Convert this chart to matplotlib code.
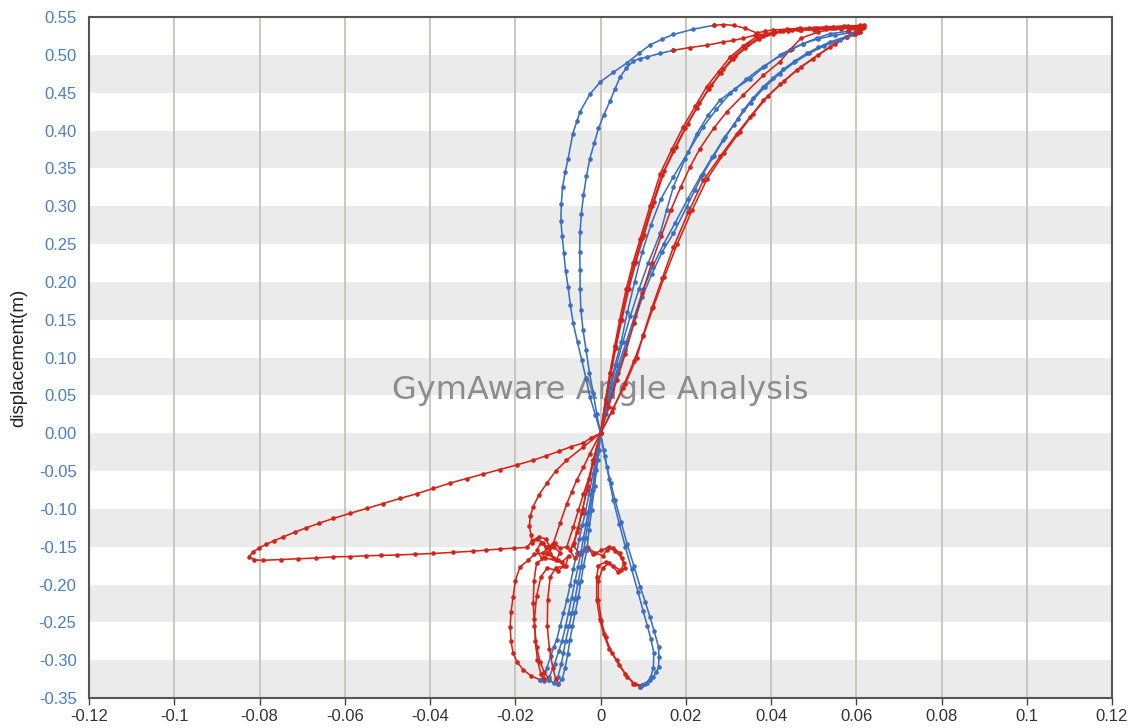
import matplotlib
matplotlib.use("Agg")
import matplotlib.pyplot as plt

# ---- data (x = horizontal offset, y = displacement, metres) ----

# blue: bottom-left loop lines up to the crossing point
blue_left_1 = [(-0.0134, -0.324), (-0.0126, -0.31), (-0.0117, -0.295), (-0.0110, -0.283), (-0.0103, -0.2736),
               (-0.0095, -0.255), (-0.0087, -0.238), (-0.0079, -0.2207), (-0.0071, -0.2), (-0.0064, -0.18),
               (-0.0056, -0.159), (-0.0050, -0.14), (-0.0043, -0.122), (-0.0036, -0.106), (-0.0027, -0.08),
               (-0.0018, -0.054), (-0.0009, -0.027), (0, 0)]
blue_left_2 = [(-0.0099, -0.331), (-0.0090, -0.325), (-0.0083, -0.31), (-0.0077, -0.292), (-0.0072, -0.2736),
               (-0.0066, -0.255), (-0.0059, -0.236), (-0.0052, -0.2163), (-0.0046, -0.196), (-0.0040, -0.175),
               (-0.0032, -0.1546), (-0.0027, -0.128), (-0.0021, -0.1018), (-0.0014, -0.07), (-0.0007, -0.035),
               (0, 0)]
blue_left_3 = [(-0.0142, -0.326), (-0.0132, -0.327), (-0.0120, -0.322), (-0.0108, -0.305), (-0.0098, -0.288),
               (-0.0090, -0.274), (-0.0082, -0.255), (-0.0075, -0.237), (-0.0068, -0.218), (-0.0060, -0.196),
               (-0.0053, -0.177), (-0.0046, -0.157), (-0.0040, -0.138), (-0.0034, -0.12), (-0.0029, -0.104),
               (-0.0020, -0.075), (-0.0012, -0.048), (-0.0005, -0.022), (0, 0)]
blue_left_4 = [(-0.0120, -0.326), (-0.0110, -0.33), (-0.0100, -0.322), (-0.0092, -0.305), (-0.0087, -0.29),
               (-0.0082, -0.275), (-0.0074, -0.255), (-0.0067, -0.237), (-0.0060, -0.219), (-0.0053, -0.198),
               (-0.0046, -0.177), (-0.0040, -0.156), (-0.0035, -0.138), (-0.0030, -0.12), (-0.0025, -0.103),
               (-0.0017, -0.075), (-0.0010, -0.048), (-0.0004, -0.022), (0, 0)]

# blue: fan from the crossing point to the top right
blue_fan_1 = [(0.0012, 0.025), (0.0025, 0.05), (0.0040, 0.08), (0.0058, 0.11), (0.0078, 0.145), (0.0098, 0.18),
              (0.0120, 0.21), (0.0145, 0.24), (0.0171, 0.264), (0.0202, 0.299), (0.0222, 0.322), (0.0241, 0.343),
              (0.0265, 0.366), (0.0288, 0.387), (0.0312, 0.407), (0.0335, 0.427), (0.0358, 0.443), (0.0382, 0.458),
              (0.0405, 0.47), (0.0429, 0.481), (0.0456, 0.492), (0.0484, 0.502), (0.0511, 0.510), (0.0538, 0.517),
              (0.0575, 0.524), (0.0609, 0.530)]
blue_fan_2 = [(0.0011, 0.03), (0.0023, 0.06), (0.0037, 0.09), (0.0052, 0.12), (0.0070, 0.155), (0.0090, 0.19),
              (0.0112, 0.225), (0.0140, 0.264), (0.0155, 0.295), (0.0171, 0.3255), (0.0198, 0.362), (0.0226, 0.396),
              (0.0252, 0.420), (0.0280, 0.44), (0.0315, 0.455), (0.0350, 0.468), (0.0385, 0.485), (0.0421, 0.4995),
              (0.0448, 0.508), (0.0475, 0.515), (0.0510, 0.521), (0.0550, 0.526), (0.0585, 0.529), (0.0605, 0.530)]
blue_fan_3 = [(0.0013, 0.03), (0.0027, 0.06), (0.0042, 0.09), (0.0060, 0.12), (0.0080, 0.155), (0.0100, 0.19),
              (0.0122, 0.22), (0.0148, 0.25), (0.0175, 0.278), (0.0205, 0.31), (0.0235, 0.34), (0.0262, 0.365),
              (0.0292, 0.392), (0.0322, 0.415), (0.0352, 0.437), (0.0385, 0.457), (0.0420, 0.475), (0.0455, 0.490),
              (0.0490, 0.502), (0.0525, 0.512), (0.0562, 0.520), (0.0598, 0.527)]
blue_fan_4 = [(0.0010, 0.03), (0.0021, 0.06), (0.0034, 0.09), (0.0048, 0.12), (0.0063, 0.16), (0.0080, 0.2),
              (0.0098, 0.24), (0.0118, 0.275), (0.0142, 0.31), (0.0171, 0.339), (0.0206, 0.372), (0.0241, 0.405),
              (0.0272, 0.428), (0.0304, 0.449), (0.0342, 0.468), (0.0380, 0.484), (0.0428, 0.501), (0.0476, 0.515),
              (0.0507, 0.522), (0.0538, 0.528), (0.0580, 0.531)]

# blue: bottom-right loop up to the crossing point
blue_right_1 = [(0.0093, -0.335), (0.0104, -0.331), (0.0116, -0.326), (0.0124, -0.322), (0.0131, -0.315),
                (0.0136, -0.309), (0.0137, -0.296), (0.0136, -0.2824), (0.0126, -0.262), (0.0116, -0.243),
                (0.0105, -0.223), (0.0093, -0.203), (0.0078, -0.175), (0.0062, -0.1458), (0.0048, -0.117),
                (0.0034, -0.0885), (0.0024, -0.066), (0.0015, -0.0445), (0.0007, -0.022), (0, 0)]
blue_right_2 = [(0.0097, -0.333), (0.0108, -0.330), (0.0118, -0.322), (0.0124, -0.31), (0.0125, -0.29),
                (0.0118, -0.272), (0.0110, -0.255), (0.0100, -0.235), (0.0088, -0.21), (0.0073, -0.18),
                (0.0058, -0.15), (0.0044, -0.12), (0.0030, -0.0885), (0.0020, -0.06), (0.0010, -0.03), (0, 0)]

# blue: top-left loops
blue_loop_outer = [(-0.0012, 0.024), (-0.0025, 0.048), (-0.0034, 0.072), (-0.0044, 0.0965), (-0.0054, 0.12),
                   (-0.0064, 0.145), (-0.0071, 0.17), (-0.0076, 0.193), (-0.0082, 0.215), (-0.0086, 0.2375),
                   (-0.0090, 0.26), (-0.0093, 0.281), (-0.0092, 0.303), (-0.0089, 0.3255), (-0.0083, 0.345),
                   (-0.0076, 0.363), (-0.0065, 0.396), (-0.0055, 0.413), (-0.0048, 0.425), (-0.0025, 0.448),
                   (-0.0001, 0.464), (0.0030, 0.477), (0.0061, 0.489), (0.0090, 0.502), (0.0116, 0.513),
                   (0.0145, 0.521), (0.0171, 0.527), (0.0218, 0.534), (0.0265, 0.539)]
blue_loop_inner = [(-0.0009, 0.026), (-0.0017, 0.0525), (-0.0026, 0.08), (-0.0034, 0.11), (-0.0041, 0.136),
                   (-0.0046, 0.1625), (-0.0048, 0.19), (-0.0048, 0.2154), (-0.0049, 0.24), (-0.0048, 0.266),
                   (-0.0045, 0.29), (-0.0040, 0.3145), (-0.0033, 0.34), (-0.0025, 0.363), (-0.0015, 0.383),
                   (-0.0005, 0.4027), (0.0008, 0.421), (0.0022, 0.4387), (0.0034, 0.455), (0.0046, 0.471),
                   (0.0060, 0.482), (0.0077, 0.492), (0.0092, 0.495), (0.0108, 0.497), (0.0140, 0.502),
                   (0.0171, 0.506)]

# red: paths along the top
red_top_a = [(0.0288, 0.540), (0.0312, 0.539), (0.0340, 0.535), (0.0366, 0.529), (0.0385, 0.531), (0.0405, 0.533),
             (0.0437, 0.534), (0.0468, 0.535), (0.0507, 0.536), (0.0546, 0.537), (0.0580, 0.538), (0.0609, 0.539),
             (0.0595, 0.536), (0.0565, 0.534), (0.0530, 0.534), (0.0500, 0.533), (0.0470, 0.533)]
red_top_b = [(0.0210, 0.5097), (0.0249, 0.5127), (0.0288, 0.517), (0.0311, 0.519), (0.0335, 0.522), (0.0362, 0.526),
             (0.0390, 0.528), (0.0429, 0.531), (0.0468, 0.5326), (0.0507, 0.534), (0.0546, 0.535), (0.0585, 0.537)]
red_top_c = [(0.0615, 0.536), (0.0580, 0.537), (0.0540, 0.536), (0.0500, 0.535), (0.0470, 0.534), (0.0440, 0.532)]
red_top_d = [(0.0610, 0.535), (0.0580, 0.537), (0.0550, 0.535)]
red_top_e = [(0.0605, 0.537), (0.0570, 0.538), (0.0530, 0.537), (0.0490, 0.535), (0.0460, 0.534)]

# red: fan from the top down to the crossing point
red_fan_1 = [(0.0450, 0.533), (0.0410, 0.530), (0.0366, 0.524), (0.0335, 0.512), (0.0304, 0.497), (0.0277, 0.478),
             (0.0249, 0.458), (0.0222, 0.432), (0.0194, 0.405), (0.0167, 0.375), (0.0140, 0.343), (0.0116, 0.300),
             (0.0093, 0.257), (0.0076, 0.225), (0.0060, 0.19), (0.0045, 0.15), (0.0033, 0.115), (0.0022, 0.08),
             (0.0012, 0.045), (0, 0)]
red_fan_1b = [(0.0405, 0.528), (0.0372, 0.521), (0.0340, 0.509), (0.0310, 0.494), (0.0282, 0.476), (0.0254, 0.455),
              (0.0226, 0.430), (0.0198, 0.403), (0.0171, 0.373), (0.0144, 0.341), (0.0120, 0.300), (0.0097, 0.258),
              (0.0079, 0.224), (0.0063, 0.19), (0.0048, 0.15), (0.0035, 0.115), (0.0023, 0.08), (0.0012, 0.045),
              (0, 0)]
red_fan_1c = [(0.0420, 0.531), (0.0380, 0.525), (0.0345, 0.514), (0.0315, 0.499), (0.0288, 0.481), (0.0260, 0.46),
              (0.0232, 0.436), (0.0204, 0.408), (0.0177, 0.378), (0.0150, 0.347), (0.0125, 0.305), (0.0102, 0.262),
              (0.0083, 0.226), (0.0066, 0.19), (0.0050, 0.15), (0.0036, 0.113), (0.0024, 0.078), (0.0012, 0.04),
              (0, 0)]
red_fan_2 = [(0.0510, 0.530), (0.0470, 0.522), (0.0445, 0.507), (0.0421, 0.491), (0.0382, 0.473), (0.0335, 0.447),
             (0.0296, 0.4246), (0.0265, 0.4027), (0.0233, 0.376), (0.0210, 0.352), (0.0188, 0.325), (0.0165, 0.295),
             (0.0142, 0.26), (0.0120, 0.225), (0.0098, 0.185), (0.0078, 0.145), (0.0058, 0.105), (0.0038, 0.07),
             (0.0019, 0.035), (0, 0)]
red_fan_3 = [(0.0617, 0.537), (0.0578, 0.524), (0.0538, 0.51), (0.0499, 0.495), (0.0460, 0.48), (0.0421, 0.461),
             (0.0382, 0.44), (0.0351, 0.418), (0.0320, 0.396), (0.0281, 0.366), (0.0241, 0.334), (0.0206, 0.292),
             (0.0171, 0.246), (0.0145, 0.205), (0.0120, 0.165), (0.0100, 0.13), (0.0085, 0.10), (0.0058, 0.065),
             (0.0030, 0.033), (0, 0)]
red_fan_3b = [(0.0617, 0.539), (0.0590, 0.528), (0.0550, 0.515), (0.0510, 0.500), (0.0470, 0.484), (0.0430, 0.465),
              (0.0392, 0.445), (0.0358, 0.422), (0.0326, 0.398), (0.0290, 0.37), (0.0250, 0.336), (0.0215, 0.295),
              (0.0180, 0.25), (0.0150, 0.207), (0.0124, 0.167), (0.0100, 0.128), (0.0078, 0.095), (0.0052, 0.06),
              (0.0026, 0.028), (0, 0)]

# red: lower parts below the crossing point
red_low_hook_1 = [(-0.0017, -0.036), (-0.0030, -0.07), (-0.0042, -0.10), (-0.0052, -0.125), (-0.0062, -0.145),
                  (-0.0072, -0.155), (-0.0060, -0.165), (-0.0045, -0.160), (-0.0030, -0.152), (-0.0012, -0.158),
                  (0.0005, -0.162), (0.0015, -0.154), (0.0030, -0.152), (0.0045, -0.158), (0.0055, -0.172),
                  (0.0048, -0.181), (0.0030, -0.176), (0.0012, -0.170), (-0.0005, -0.175), (-0.0009, -0.19),
                  (-0.0009, -0.22), (-0.0002, -0.245), (0.0007, -0.265), (0.0020, -0.285), (0.0038, -0.30),
                  (0.0058, -0.318), (0.0077, -0.331), (0.0093, -0.335)]
red_low_hook_2 = [(-0.0018, -0.04), (-0.0032, -0.075), (-0.0044, -0.105), (-0.0055, -0.13), (-0.0065, -0.148),
                  (-0.0050, -0.158), (-0.0032, -0.150), (-0.0018, -0.160), (0.0002, -0.155), (0.0020, -0.150),
                  (0.0035, -0.156), (0.0050, -0.165), (0.0058, -0.178), (0.0040, -0.183), (0.0020, -0.172),
                  (0.0005, -0.178), (-0.0005, -0.195), (-0.0005, -0.22), (0.0002, -0.248), (0.0012, -0.27),
                  (0.0026, -0.29), (0.0044, -0.307), (0.0063, -0.322), (0.0082, -0.332), (0.0097, -0.333)]
red_low_sweep = [(-0.0022, -0.006), (-0.0040, -0.0128), (-0.0070, -0.018), (-0.0098, -0.024), (-0.0128, -0.030),
                 (-0.0158, -0.0357), (-0.0197, -0.042), (-0.0236, -0.048), (-0.0275, -0.054), (-0.0314, -0.0599),
                 (-0.0353, -0.066), (-0.0392, -0.073), (-0.0431, -0.080), (-0.0471, -0.0863), (-0.0510, -0.093),
                 (-0.0549, -0.0995), (-0.0588, -0.106), (-0.0627, -0.1127), (-0.0660, -0.119), (-0.0690, -0.125),
                 (-0.0718, -0.131), (-0.0744, -0.137), (-0.0765, -0.142), (-0.0785, -0.147), (-0.0802, -0.152),
                 (-0.0815, -0.157), (-0.0825, -0.163), (-0.0812, -0.1675), (-0.0791, -0.168), (-0.0750, -0.167),
                 (-0.0709, -0.166), (-0.0668, -0.165), (-0.0627, -0.1635), (-0.0588, -0.163), (-0.0550, -0.162),
                 (-0.0514, -0.1615), (-0.0478, -0.161), (-0.0435, -0.160), (-0.0392, -0.159), (-0.0346, -0.1575),
                 (-0.0300, -0.156), (-0.0268, -0.1545), (-0.0235, -0.153), (-0.0204, -0.152), (-0.0173, -0.151),
                 (-0.0160, -0.142), (-0.0145, -0.137), (-0.0128, -0.140), (-0.0120, -0.150), (-0.0135, -0.158),
                 (-0.0155, -0.160), (-0.0170, -0.168), (-0.0189, -0.177), (-0.0200, -0.195), (-0.0205, -0.216),
                 (-0.0210, -0.236), (-0.0212, -0.256), (-0.0210, -0.275), (-0.0205, -0.291), (-0.0195, -0.303),
                 (-0.0181, -0.313), (-0.0162, -0.321), (-0.0142, -0.326)]
red_low_loop = [(-0.0040, -0.018), (-0.0080, -0.036), (-0.0105, -0.05), (-0.0126, -0.066), (-0.0145, -0.082),
                (-0.0158, -0.097), (-0.0165, -0.11), (-0.0167, -0.123), (-0.0163, -0.135), (-0.0160, -0.145),
                (-0.0148, -0.14), (-0.0135, -0.145), (-0.0125, -0.158), (-0.0110, -0.150), (-0.0095, -0.158),
                (-0.0105, -0.168), (-0.0130, -0.165), (-0.0150, -0.171), (-0.0156, -0.195), (-0.0158, -0.225),
                (-0.0155, -0.255), (-0.0150, -0.282), (-0.0142, -0.302), (-0.0132, -0.316), (-0.0120, -0.326)]
red_low_c = [(-0.0017, -0.036), (-0.0028, -0.06), (-0.0040, -0.08), (-0.0052, -0.102), (-0.0064, -0.124),
             (-0.0079, -0.150), (-0.0095, -0.152), (-0.0108, -0.145), (-0.0120, -0.152), (-0.0112, -0.165),
             (-0.0090, -0.170), (-0.0075, -0.162), (-0.0082, -0.175), (-0.0105, -0.178), (-0.0118, -0.19),
             (-0.0124, -0.22), (-0.0125, -0.255), (-0.0120, -0.285), (-0.0112, -0.31), (-0.0105, -0.325),
             (-0.0099, -0.331)]
red_low_c2 = [(-0.0025, -0.027), (-0.0040, -0.045), (-0.0056, -0.062), (-0.0068, -0.078), (-0.0079, -0.093),
              (-0.0095, -0.119), (-0.0111, -0.146), (-0.0125, -0.150), (-0.0140, -0.145), (-0.0150, -0.155),
              (-0.0138, -0.165), (-0.0118, -0.160), (-0.0100, -0.168), (-0.0085, -0.175), (-0.0100, -0.182),
              (-0.0125, -0.178), (-0.0140, -0.19), (-0.0150, -0.215), (-0.0155, -0.245), (-0.0153, -0.275),
              (-0.0148, -0.30), (-0.0140, -0.318), (-0.0132, -0.325)]

# one rep = blue (up) then red (down); red starts where the blue ended
blue_reps = [blue_left_1 + blue_fan_1,
             blue_right_1 + blue_loop_outer,
             blue_right_2 + blue_loop_inner,
             blue_left_3 + blue_fan_2,
             blue_left_4 + blue_fan_3,
             blue_left_2 + blue_fan_4]
red_parts = [red_fan_3 + red_low_hook_1,
             red_top_a + red_fan_1 + red_low_hook_2,
             red_top_b + red_fan_3b + red_low_sweep,
             red_top_c + red_fan_1b + red_low_loop,
             red_top_d + red_fan_2 + red_low_c,
             red_top_e + red_fan_1c + red_low_c2]

x_ticks = [-0.12, -0.1, -0.08, -0.06, -0.04, -0.02, 0, 0.02, 0.04, 0.06, 0.08, 0.1, 0.12]
x_tick_labels = ['-0.12', '-0.1', '-0.08', '-0.06', '-0.04', '-0.02', '0',
                 '0.02', '0.04', '0.06', '0.08', '0.1', '0.12']
y_ticks = [-0.35, -0.30, -0.25, -0.20, -0.15, -0.10, -0.05, 0.00, 0.05, 0.10,
           0.15, 0.20, 0.25, 0.30, 0.35, 0.40, 0.45, 0.50, 0.55]
band_starts = [-0.35, -0.25, -0.15, -0.05, 0.05, 0.15, 0.25, 0.35, 0.45]

BLUE = '#3a6fc1'
RED = '#d4241a'

fig = plt.figure(figsize=(11.33, 7.28), dpi=100)
ax = fig.add_axes([0.0786, 0.0412, 0.9029, 0.9354])

for y0 in band_starts:
    ax.axhspan(y0, y0 + 0.05, color='#ebebeb', lw=0, zorder=0)
for xt in x_ticks[1:-1]:
    ax.axvline(xt, color='#c4c4bc', lw=1.3, zorder=1)

ax.text(0, 0.057, 'GymAware Angle Analysis', fontsize=23, color='#8c8c8c',
        family='DejaVu Sans', ha='center', va='center', zorder=2)

for blue, red in zip(blue_reps, red_parts):
    ax.plot([p[0] for p in blue], [p[1] for p in blue], color=BLUE, lw=1.15,
            marker='o', ms=2.3, zorder=3)
    red = [blue[-1]] + red
    ax.plot([p[0] for p in red], [p[1] for p in red], color=RED, lw=1.15,
            marker='o', ms=2.3, zorder=3)

ax.set_xlim(-0.12, 0.12)
ax.set_ylim(-0.35, 0.55)
ax.set_xticks(x_ticks)
ax.set_xticklabels(x_tick_labels)
ax.set_yticks(y_ticks)
ax.set_yticklabels(['%.2f' % v for v in y_ticks])

ax.tick_params(axis='x', length=5, width=1, color='#444444', pad=3,
               labelsize=12, labelcolor='#333333')
ax.tick_params(axis='y', length=0, pad=9, labelsize=12, labelcolor='#4a7fc4')
for lab in ax.get_xticklabels() + ax.get_yticklabels():
    lab.set_family('Liberation Sans')

for side in ['left', 'right', 'top', 'bottom']:
    ax.spines[side].set_color('#555555')
    ax.spines[side].set_linewidth(1.5)

ax.set_ylabel('displacement(m)', fontsize=13.5, family='Liberation Sans', color='#222222', labelpad=8)

fig.savefig('out.png', dpi=100)
plt.close(fig)
